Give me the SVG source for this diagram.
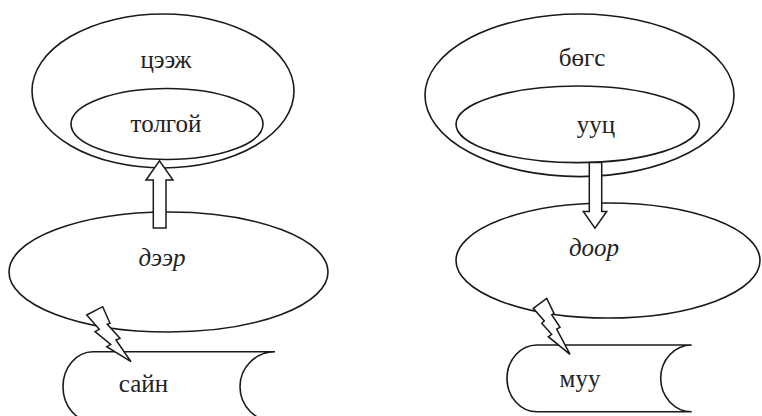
<svg xmlns="http://www.w3.org/2000/svg" width="762" height="416" viewBox="0 0 762 416">
<style>
.s{fill:none;stroke:#1a1a1a;stroke-width:1.6}
.w{fill:#fff;stroke:#1a1a1a;stroke-width:1.5;stroke-linejoin:miter}
</style>
<rect width="762" height="416" fill="#fff"/>
<g font-family="Liberation Serif, Times New Roman, DejaVu Serif, serif" font-size="25" fill="#222" text-anchor="middle">
<g id="tseej">
<ellipse class="s" cx="163" cy="91" rx="131" ry="77"/>
<text x="166" y="68">цээж</text>
</g>
<g id="tolgoi">
<ellipse class="s" cx="167" cy="124" rx="96" ry="35.5"/>
<text x="166" y="132">толгой</text>
</g>
<g id="deer">
<ellipse class="s" cx="168.5" cy="272" rx="159.5" ry="60"/>
<text font-style="italic" x="162" y="266">дээр</text>
</g>
<g id="sain">
<path class="s" d="M275,351.7 H93 A30,35 0 0 0 93,421.7 H275 M275,351.7 A35,35 0 0 0 275,421.7"/>
<text x="143.5" y="391.7">сайн</text>
</g>
<g id="bogs">
<ellipse class="s" cx="579.5" cy="95.3" rx="154.5" ry="81.3"/>
<text x="582" y="66">бөгс</text>
</g>
<g id="uuts">
<ellipse class="s" cx="577.7" cy="124.3" rx="121.7" ry="38.3"/>
<text x="596" y="133">ууц</text>
</g>
<g id="door">
<ellipse class="s" cx="608" cy="260.5" rx="152" ry="57.5"/>
<text font-style="italic" x="594" y="255.5">доор</text>
</g>
<g id="muu">
<path class="s" d="M691.7,345 H537 A30,33.35 0 0 0 537,411.7 H691.7 M691.7,345 A31,33.35 0 0 0 691.7,411.7"/>
<text x="580" y="387">муу</text>
</g>
</g>
<g id="connectors">
<polygon class="w" points="153.3,228 166,228 166,180 173,180 159.5,160.7 146,180 153.3,180"/>
<polygon class="w" points="589.3,162.5 601.7,162.5 601.7,211.5 606.7,211.5 595,228.3 583.3,211.5 589.3,211.5"/>
<polygon class="w" points="86.7,315 102.7,306.7 110,323.3 107.3,324.3 120,338.3 116,340 131,361.7 106.7,346.7 110.7,344.3 95,331.7 99.3,329.3"/>
<polygon class="w" points="533.3,308.3 546.7,298.3 554,313.3 551.7,314.7 560,327.3 556.7,329 570,354.3 548.3,336.7 551.7,334.3 541.7,323.3 544.3,321"/>
</g>
</svg>
